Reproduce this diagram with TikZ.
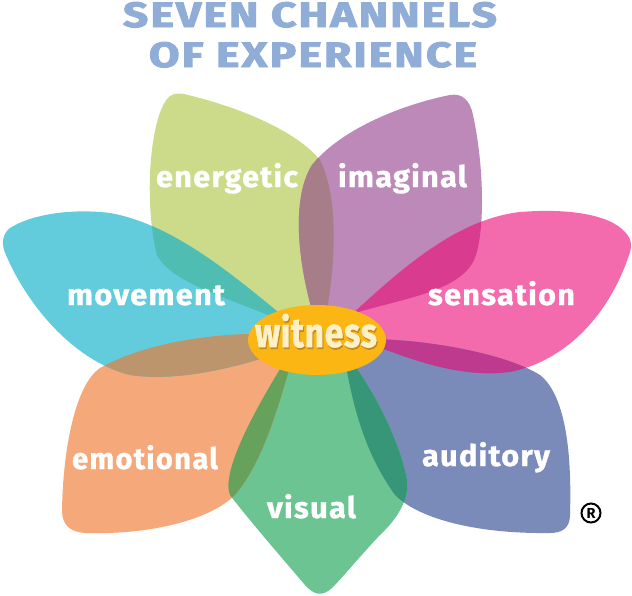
\documentclass[tikz,border=0pt]{standalone}
\usepackage{fontspec}
\usepackage{graphicx}
\setmainfont{Fira Sans}
\newfontfamily\labelfont{Fira Sans}[LetterSpace=4, FakeBold=1]
\newfontfamily\titlefont{Fira Sans}[LetterSpace=5, FakeBold=2.5]
\newfontfamily\witfont{Fira Sans}[LetterSpace=2, FakeBold=1.5]
\usetikzlibrary{shapes.geometric}
\definecolor{energ}{HTML}{CCDB8A}
\definecolor{imag}{HTML}{BC89B8}
\definecolor{sens}{HTML}{F36BAD}
\definecolor{audi}{HTML}{7A8BBA}
\definecolor{visu}{HTML}{6BC491}
\definecolor{emot}{HTML}{F5A97A}
\definecolor{move}{HTML}{62CCDD}
\definecolor{wit}{HTML}{FBB614}
\definecolor{ovEM}{HTML}{50BDB3}
\definecolor{ovEI}{HTML}{A67D88}
\definecolor{ovIS}{HTML}{D93B8E}
\definecolor{ovSA}{HTML}{BE3A8E}
\definecolor{ovAV}{HTML}{369677}
\definecolor{ovVE}{HTML}{67A25D}
\definecolor{ovEmM}{HTML}{BC956D}
\definecolor{titleblue}{HTML}{8FADD6}
\definecolor{wtext}{HTML}{FFF0C8}
\definecolor{wshadow}{HTML}{C08A1C}
\tikzset{
  pEnerg/.style={insert path={(310,335) .. controls (260,305) and (175,290) .. (157,255)
     .. controls (145,210) and (148,130) .. (165,102) .. controls (170,93) and (178,92) .. (188,95)
     .. controls (250,110) and (300,135) .. (320,160) .. controls (340,200) and (335,270) .. (325,320) -- cycle}},
  pImag/.style={insert path={(318,330) .. controls (298,270) and (290,200) .. (312,165)
     .. controls (340,130) and (400,105) .. (450,95) .. controls (462,93) and (470,100) .. (473,115)
     .. controls (485,170) and (485,240) .. (473,262) .. controls (455,295) and (390,300) .. (340,318) -- cycle}},
  pSens/.style={insert path={(340,325) .. controls (390,280) and (450,220) .. (520,212)
     .. controls (570,208) and (610,215) .. (625,232) .. controls (633,240) and (632,248) .. (628,258)
     .. controls (610,310) and (570,360) .. (510,372) .. controls (450,380) and (390,350) .. (345,335) -- cycle}},
  pAudi/.style={insert path={(345,340) .. controls (400,335) and (500,350) .. (540,375)
     .. controls (565,395) and (572,450) .. (570,515) .. controls (570,528) and (562,533) .. (550,533)
     .. controls (480,534) and (420,520) .. (395,495) .. controls (370,460) and (355,420) .. (345,360) -- cycle}},
  pVisu/.style={insert path={(335,340) .. controls (370,380) and (400,440) .. (407,480)
     .. controls (410,500) and (395,520) .. (385,530) .. controls (365,550) and (345,575) .. (332,588)
     .. controls (322,597) and (314,595) .. (305,585) .. controls (275,550) and (245,515) .. (230,495)
     .. controls (220,470) and (260,400) .. (295,345) -- cycle}},
  pEmot/.style={insert path={(295,335) .. controls (230,330) and (150,340) .. (100,368)
     .. controls (75,385) and (63,450) .. (62,510) .. controls (62,525) and (70,532) .. (85,533)
     .. controls (150,535) and (210,520) .. (235,495) .. controls (265,460) and (280,400) .. (295,350) -- cycle}},
  pMove/.style={insert path={(300,330) .. controls (250,290) and (180,225) .. (110,213)
     .. controls (70,208) and (30,215) .. (10,228) .. controls (2,234) and (1,245) .. (6,255)
     .. controls (25,300) and (70,360) .. (130,375) .. controls (180,383) and (250,365) .. (300,345) -- cycle}},
  lbl/.style={text=white, inner sep=0, anchor=base, font=\labelfont\bfseries\fontsize{29.6}{30}\selectfont},
  ttl/.style={text=titleblue, inner sep=0, anchor=base, font=\titlefont\bfseries},
  wlbl/.style={inner sep=0, anchor=base, font=\witfont\bfseries\fontsize{41}{42}\selectfont}
}
\begin{document}
\begin{tikzpicture}[x=1pt,y=-1pt]
\useasboundingbox (0,0) rectangle (632,595);
% title
\node[ttl] (title1) at (310,27) {\resizebox{374pt}{25pt}{SEVEN CHANNELS}};
\node[ttl] (title2) at (313,67) {\resizebox{328pt}{25pt}{OF EXPERIENCE}};
% petals
\fill[energ, pEnerg];
\fill[imag, pImag];
\fill[sens, pSens];
\fill[audi, pAudi];
\fill[visu, pVisu];
\fill[emot, pEmot];
\fill[move, pMove];
% overlaps
\begin{scope}\clip[pEnerg]; \fill[ovEM, pMove];\end{scope}
\begin{scope}\clip[pEnerg]; \fill[ovEI, pImag];\end{scope}
\begin{scope}\clip[pImag]; \fill[ovIS, pSens];\end{scope}
\begin{scope}\clip[pSens]; \fill[ovSA, pAudi];\end{scope}
\begin{scope}\clip[pAudi]; \fill[ovAV, pVisu];\end{scope}
\begin{scope}\clip[pVisu]; \fill[ovVE, pEmot];\end{scope}
\begin{scope}\clip[pEmot]; \fill[ovEmM, pMove];\end{scope}
% centre
\node[ellipse, fill=wit, minimum width=138pt, minimum height=70pt, inner sep=0] (witness) at (317,340) {};
\node[wlbl] (wlabel) at (316,347) {\resizebox{122pt}{\height}{\rlap{\hspace{1.2pt}\raisebox{-1.8pt}{\textcolor{wshadow}{witness}}}\textcolor{wtext}{witness}}};
% labels
\node[lbl] (energetic) at (227,187) {\resizebox{142pt}{\height}{energetic}};
\node[lbl] (imaginal) at (402.5,187) {\resizebox{129pt}{\height}{imaginal}};
\node[lbl] (movement) at (146,305) {\resizebox{158pt}{\height}{movement}};
\node[lbl] (sensation) at (501.5,305) {\resizebox{147pt}{\height}{sensation}};
\node[lbl] (emotional) at (145,469) {\resizebox{146pt}{\height}{emotional}};
\node[lbl] (auditory) at (486,466) {\resizebox{128pt}{\height}{auditory}};
\node[lbl] (visual) at (311.5,518) {\resizebox{89pt}{\height}{visual}};
% registered mark
\node[draw, circle, line width=2pt, inner sep=0, minimum size=19pt, font=\bfseries\fontsize{14.5}{14.5}\selectfont] (reg) at (591,513) {R};
\end{tikzpicture}
\end{document}
